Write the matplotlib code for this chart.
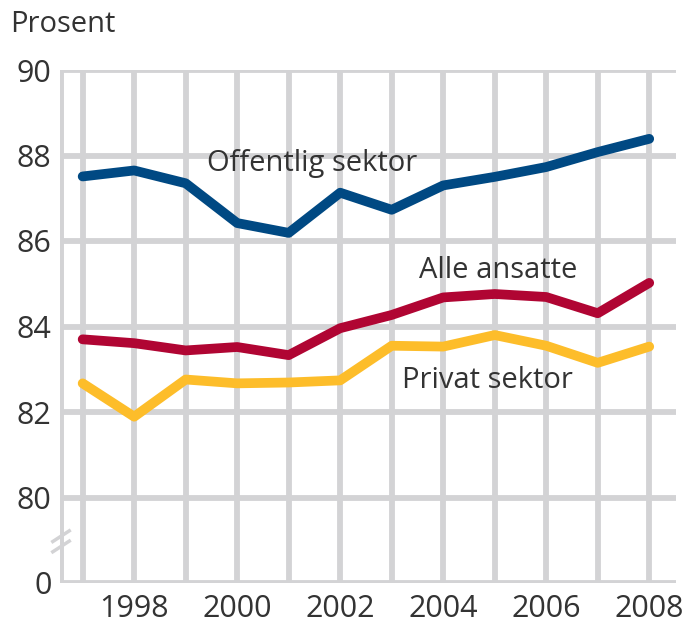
import matplotlib.pyplot as plt
import numpy as np

plt.rcParams['font.family'] = ['Open Sans', 'DejaVu Sans']

years = np.arange(1997, 2009)
offentlig = [87.51, 87.65, 87.35, 86.42, 86.19, 87.13, 86.73, 87.30, 87.50, 87.73, 88.08, 88.39]
alle = [83.70, 83.61, 83.44, 83.52, 83.33, 83.96, 84.27, 84.68, 84.76, 84.69, 84.31, 85.02]
privat = [82.67, 81.89, 82.76, 82.67, 82.69, 82.74, 83.55, 83.53, 83.80, 83.55, 83.15, 83.53]

# y-axis is broken: the "0" tick sits at 78 on the plotted scale
ytick_pos = [78, 80, 82, 84, 86, 88, 90]
ytick_lab = ["0", "80", "82", "84", "86", "88", "90"]
xtick_lab = [str(y) if y % 2 == 0 else "" for y in years]

grid_col = "#d3d3d5"
text_col = "#333333"

fig = plt.figure(figsize=(6.91, 6.31), dpi=100)
ax = fig.add_axes([60 / 691, (631 - 583) / 631, (676 - 60) / 691, (583 - 70) / 631])

for y in ytick_pos:
    ax.axhline(y, color=grid_col, lw=4.2, zorder=1)
for x in years:
    ax.axvline(x, color=grid_col, lw=4.2, zorder=1)
ax.axvline(1996.56, color=grid_col, lw=5, zorder=1)

ax.plot(years, offentlig, color="#004983", lw=7, solid_capstyle="round", solid_joinstyle="round", zorder=3)
ax.plot(years, alle, color="#b00533", lw=7, solid_capstyle="round", solid_joinstyle="round", zorder=3)
ax.plot(years, privat, color="#fdbd2a", lw=7, solid_capstyle="round", solid_joinstyle="round", zorder=3)

ax.text(2001.46, 87.82, "Offentlig sektor", fontsize=21, color=text_col, ha="center", va="center", zorder=4)
ax.text(2005.07, 85.32, "Alle ansatte", fontsize=21, color=text_col, ha="center", va="center", zorder=4)
ax.text(2004.85, 82.73, "Privat sektor", fontsize=21, color=text_col, ha="center", va="center", zorder=4)

# break marks on the y-axis
for dy in (-0.12, 0.12):
    ax.plot([1996.42, 1996.74], [78.85 + dy, 79.1 + dy], color=grid_col, lw=2.5, clip_on=False, zorder=2)

ax.set_xlim(1996.56, 2008.52)
ax.set_ylim(78, 90)
ax.set_yticks(ytick_pos)
ax.set_yticklabels(ytick_lab)
ax.set_xticks(years)
ax.set_xticklabels(xtick_lab)
ax.tick_params(length=0, labelsize=22, colors=text_col)
ax.tick_params(axis="y", pad=6)
ax.tick_params(axis="x", pad=8)
for s in ax.spines.values():
    s.set_visible(False)

fig.text(10 / 691, 1 - 25 / 631, "Prosent", fontsize=21, color=text_col, ha="left", va="center")

fig.savefig("out.png", dpi=100)
